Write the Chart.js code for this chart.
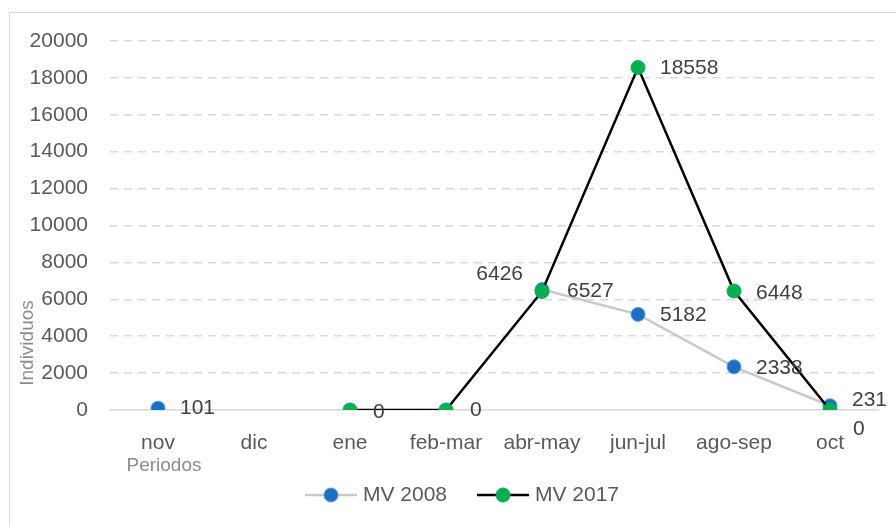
<!DOCTYPE html>
<html>
<head>
<meta charset="utf-8">
<script src="https://cdn.jsdelivr.net/npm/chart.js@4.4.1/dist/chart.umd.min.js"></script>
<style>
  html, body { margin: 0; padding: 0; background: #fff; }
  #wrap { width: 896px; height: 527px; }
</style>
</head>
<body>
<div id="wrap"><canvas id="lineChart" width="896" height="527"></canvas></div>
<script>
// data
const periods = ["nov", "dic", "ene", "feb-mar", "abr-may", "jun-jul", "ago-sep", "oct"];
const mv2008 = [101, null, null, null, 6527, 5182, 2338, 231];
const mv2017 = [null, null, 0, 0, 6426, 18558, 6448, 0];
const yTicks = [0, 2000, 4000, 6000, 8000, 10000, 12000, 14000, 16000, 18000, 20000];

const FONT = "'Liberation Sans', Arial, sans-serif";

// where each value label sits relative to its point: [dataset, index, dx, dy, align]
const labelPlaces = [
  [0, 0, 22, 0, "left"],
  [0, 4, 25, 2, "left"],
  [0, 5, 22, 1, "left"],
  [0, 6, 22, 1, "left"],
  [0, 7, 22, -6, "left"],
  [1, 2, 23, 2, "left"],
  [1, 3, 24, 0, "left"],
  [1, 4, -19, -17, "right"],
  [1, 5, 22, 1, "left"],
  [1, 6, 22, 2, "left"],
  [1, 7, 23, 19, "left"],
];

const extras = {
  id: "extras",
  beforeDraw(chart) {
    const c = chart.ctx;
    c.save();
    c.fillStyle = "#fff";
    c.fillRect(0, 0, chart.width, chart.height);
    c.strokeStyle = "#d9d9d9";
    c.lineWidth = 1;
    c.strokeRect(9.5, 12.5, 900, 520);
    c.restore();
  },
  afterDatasetsDraw(chart) {
    const c = chart.ctx;
    c.save();
    c.font = "21px " + FONT;
    c.fillStyle = "#404040";
    c.textBaseline = "middle";
    labelPlaces.forEach(([d, i, dx, dy, align]) => {
      const pt = chart.getDatasetMeta(d).data[i];
      const v = chart.data.datasets[d].data[i];
      c.textAlign = align;
      c.fillText(String(v), pt.x + dx, pt.y + dy);
    });

    // axis titles
    c.fillStyle = "#8c8c8c";
    c.font = "19px " + FONT;
    c.textAlign = "center";
    c.fillText("Periodos", 164, 466);
    c.save();
    c.translate(28, 343);
    c.rotate(-Math.PI / 2);
    c.fillText("Individuos", 0, 0);
    c.restore();

    // legend
    const items = [
      { x: 305, text: chart.data.datasets[0].label, line: "#c9c9c9", dot: "#1a6fc6", edge: "#5b9bd5" },
      { x: 477, text: chart.data.datasets[1].label, line: "#000", dot: "#00b050", edge: "#00b050" },
    ];
    const ly = 495;
    items.forEach((it) => {
      c.strokeStyle = it.line;
      c.lineWidth = 2.5;
      c.beginPath();
      c.moveTo(it.x, ly);
      c.lineTo(it.x + 52, ly);
      c.stroke();
      c.beginPath();
      c.arc(it.x + 26, ly, 7, 0, Math.PI * 2);
      c.fillStyle = it.dot;
      c.fill();
      c.strokeStyle = it.edge;
      c.lineWidth = 1;
      c.stroke();
      c.fillStyle = "#595959";
      c.font = "21px " + FONT;
      c.textAlign = "left";
      c.fillText(it.text, it.x + 58, ly);
    });
    c.restore();
  },
};

new Chart(document.getElementById("lineChart"), {
  type: "line",
  data: {
    labels: periods,
    datasets: [
      {
        label: "MV 2008",
        data: mv2008,
        order: 2,
        borderColor: "#c9c9c9",
        borderWidth: 2.5,
        pointRadius: 7,
        pointBackgroundColor: "#1a6fc6",
        pointBorderColor: "#5b9bd5",
        pointBorderWidth: 1,
        spanGaps: false,
        tension: 0,
      },
      {
        label: "MV 2017",
        data: mv2017,
        order: 1,
        borderColor: "#000000",
        borderWidth: 2.5,
        pointRadius: 7,
        pointBackgroundColor: "#00b050",
        pointBorderColor: "#00b050",
        pointBorderWidth: 1,
        spanGaps: false,
        tension: 0,
      },
    ],
  },
  options: {
    responsive: false,
    animation: false,
    events: [],
    layout: { padding: { left: 10, right: 18, top: 41, bottom: 0 } },
    plugins: { legend: { display: false }, tooltip: { enabled: false } },
    scales: {
      x: {
        offset: true,
        grid: { display: false, drawTicks: false },
        border: { display: true, color: "#d9d9d9", width: 1.5 },
        ticks: { color: "#595959", font: { size: 21, family: FONT }, padding: 21, maxRotation: 0, autoSkip: false },
        afterFit: (s) => { s.height = 117; },
      },
      y: {
        min: 0,
        max: 20000,
        afterBuildTicks: (s) => { s.ticks = yTicks.map((v) => ({ value: v })); },
        grid: { color: "#d9d9d9", lineWidth: 1.5, drawTicks: false },
        border: { display: false, dash: [8, 6] },
        ticks: { color: "#595959", font: { size: 21, family: FONT }, padding: 22, callback: (v) => String(v) },
        afterFit: (s) => { s.width = 100; },
      },
    },
  },
  plugins: [extras],
});
</script>
</body>
</html>
